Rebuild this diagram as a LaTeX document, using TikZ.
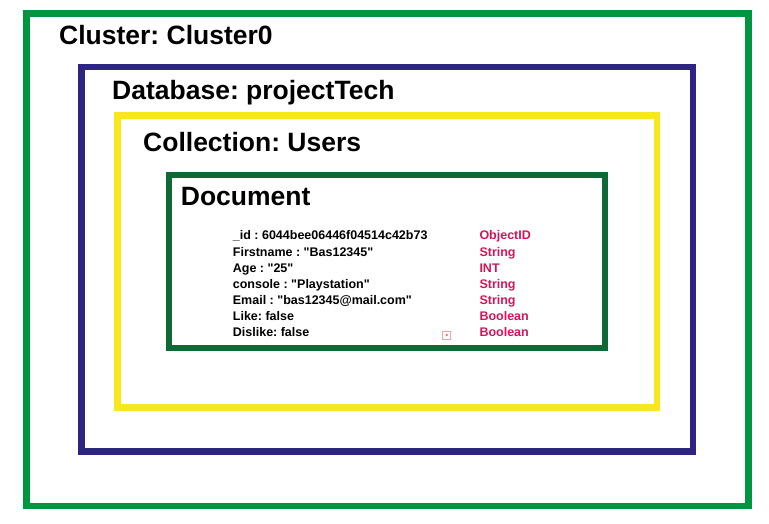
\documentclass[tikz,border=0pt]{standalone}
\usepackage{fontspec}
\setmainfont{Liberation Sans}[Ligatures=TeXOff]
\usepackage{tikz}
\usetikzlibrary{positioning}
\frenchspacing
\definecolor{ClusterGreen}{HTML}{009640}
\definecolor{DbIndigo}{HTML}{2E2583}
\definecolor{CollYellow}{HTML}{F8E71C}
\definecolor{DocGreen}{HTML}{0E6A35}
\definecolor{TypeRed}{HTML}{D4145A}
\definecolor{IconPink}{HTML}{F2A3A3}
\tikzset{
  frame/.style={line width=6.5pt,line join=miter},
  title/.style={anchor=base west,inner sep=0pt,text=black,font=\fontsize{26.5}{30}\selectfont\bfseries},
  field/.style={anchor=base west,inner sep=0pt,text=black,font=\fontsize{12.5}{15}\selectfont\bfseries},
  ftype/.style={anchor=base west,inner sep=0pt,text=TypeRed,font=\fontsize{12.5}{15}\selectfont\bfseries},
  icon/.style={rectangle,draw=IconPink,line width=1pt,minimum size=8pt,inner sep=0pt},
}

\begin{document}
\begin{tikzpicture}[x=1pt,y=-1pt]
    \useasboundingbox (0,0) rectangle (769,524);

    \draw[frame,draw=ClusterGreen] (26.5,13.3) rectangle (748.5,506);
    \draw[frame,draw=DbIndigo] (81.5,67) rectangle (693,451.5);
    \draw[frame,draw=CollYellow] (117.5,115.7) rectangle (657,407.5);
    \draw[frame,draw=DocGreen] (169,175) rectangle (605,348);

    \node[title] (cluster) at (59,45) {Cluster: Cluster0};
    \node[title] (database) at (112,100) {Database: projectTech};
    \node[title] (collection) at (143,152) {Collection: Users};
    \node[title] (document) at (180.7,206) {Document};

    \node[field] (fid) at (232.7,240) {\_id : 6044bee06446f04514c42b73};
    \node[ftype] (tid) at (479.3,240) {ObjectID};

    \node[field] (ffirst) at (232.7,256) {Firstname : "Bas12345"};
    \node[ftype] (tfirst) at (479.3,256) {String};

    \node[field] (fage) at (232.7,272) {Age : "25"};
    \node[ftype] (tage) at (479.3,272) {INT};

    \node[field] (fconsole) at (232.7,288) {console : "Playstation"};
    \node[ftype] (tconsole) at (479.3,288) {String};

    \node[field] (femail) at (232.7,304) {Email : "bas12345@mail.com"};
    \node[ftype] (temail) at (479.3,304) {String};

    \node[field] (flike) at (232.7,320) {Like: false};
    \node[ftype] (tlike) at (479.3,320) {Boolean};

    \node[field] (fdislike) at (232.7,336) {Dislike: false};
    \node[ftype] (tdislike) at (479.3,336) {Boolean};

    \node[icon] (mark) at (446.7,335) {};
    \fill[IconPink!70!red] (mark.center) circle (1.4pt);
  \end{tikzpicture}
\end{document}
